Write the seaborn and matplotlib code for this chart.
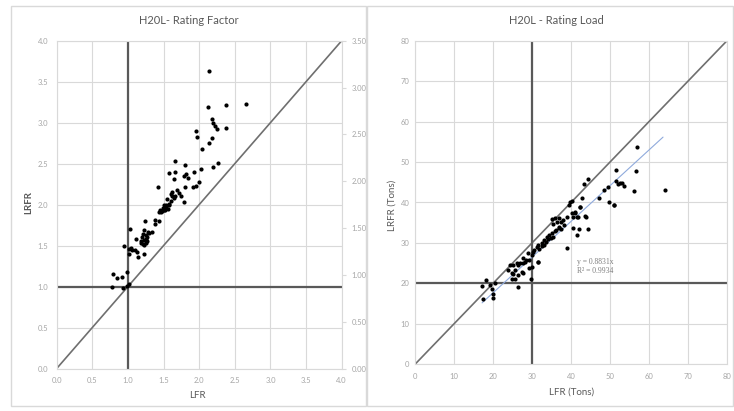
import matplotlib
matplotlib.use("Agg")
import matplotlib.pyplot as plt
from matplotlib.patches import Rectangle
from matplotlib.ticker import FormatStrFormatter, MultipleLocator
import pandas as pd
import seaborn as sns

# Rating factor data (LFR vs LRFR)
rf_lfr = [2.14, 2.12, 2.37, 2.65, 2.18, 2.20, 2.22, 2.25, 2.38, 1.95, 1.97, 2.18, 2.14, 2.04,
          2.26, 2.20, 1.66, 1.80, 1.58, 1.66, 1.81, 1.92, 2.03, 1.79, 1.64, 1.84, 2.00, 1.91,
          1.95, 1.42, 1.80, 1.62, 1.69, 1.66, 1.62, 1.75, 1.79, 1.55, 1.58, 1.65, 1.50, 1.53,
          1.45, 1.47, 1.52, 1.56, 1.43, 1.38, 1.44, 1.24, 1.03, 1.23, 1.28, 1.38, 1.34, 1.21,
          1.27, 1.11, 1.23, 1.19, 1.27, 1.21, 1.18, 0.94, 1.22, 1.02, 1.10, 1.13, 1.01, 1.22,
          1.14, 0.98, 0.79, 0.91, 0.85, 0.78, 0.93, 1.01, 0.98, 1.49, 1.51, 1.54, 1.60, 1.57,
          1.25, 1.26, 1.30, 1.20, 1.48, 1.61, 1.72, 1.25, 1.04, 1.06]
rf_lrfr = [3.63, 3.19, 3.22, 3.23, 3.05, 3.00, 2.96, 2.92, 2.93, 2.90, 2.82, 2.81, 2.75, 2.68,
           2.51, 2.46, 2.53, 2.48, 2.38, 2.40, 2.37, 2.40, 2.43, 2.35, 2.31, 2.32, 2.27, 2.21,
           2.23, 2.22, 2.22, 2.15, 2.18, 2.11, 2.11, 2.11, 2.03, 2.07, 2.01, 2.08, 1.99, 1.97,
           1.94, 1.91, 1.94, 1.95, 1.91, 1.81, 1.80, 1.80, 1.70, 1.69, 1.67, 1.76, 1.66, 1.64,
           1.61, 1.58, 1.57, 1.55, 1.55, 1.52, 1.53, 1.50, 1.51, 1.46, 1.45, 1.42, 1.40, 1.40,
           1.36, 1.18, 1.15, 1.12, 1.10, 0.99, 0.98, 1.03, 1.01, 1.96, 1.93, 1.99, 2.04, 2.00,
           1.58, 1.63, 1.65, 1.60, 1.92, 2.13, 2.14, 1.53, 1.47, 1.44]

# Rating load data in tons (LFR vs LRFR)
rl_lfr = [56.8, 51.6, 56.7, 43.4, 44.3, 51.6, 52.6, 53.1, 52.1, 53.6, 56.2, 64.1, 48.5, 49.6,
          47.2, 42.7, 49.7, 51.0, 40.2, 42.4, 41.0, 40.6, 41.5, 43.8, 40.2, 40.6, 42.1, 44.4,
          41.6, 39.7, 39.5, 42.3, 40.9, 41.9, 38.9, 43.6, 36.8, 37.4, 37.9, 36.3, 38.3, 35.5,
          36.8, 37.4, 36.2, 35.0, 34.4, 33.8, 35.5, 34.2, 33.1, 32.5, 31.6, 32.5, 31.2, 31.9,
          38.9, 30.3, 29.9, 31.6, 29.1, 29.3, 28.2, 27.8, 26.9, 26.5, 26.1, 27.6, 25.2, 24.4,
          29.9, 29.3, 29.7, 27.4, 25.6, 24.8, 25.2, 26.5, 27.8, 24.8, 25.6, 26.5, 18.2, 17.1,
          19.2, 19.7, 20.1, 17.5, 20.1, 20.5, 23.9, 31.6, 51.1, 35.8, 37.0, 33.5, 34.8, 28.5,
          30.5, 33.0, 36.0, 35.2]
rl_lrfr = [53.6, 48.0, 47.8, 44.6, 45.7, 45.4, 44.7, 44.9, 44.6, 44.2, 42.8, 43.2, 43.2, 43.9,
           41.2, 41.0, 40.0, 39.5, 40.4, 38.8, 37.7, 36.5, 36.3, 36.5, 37.3, 33.6, 33.5, 33.5,
           32.0, 40.2, 39.4, 39.0, 37.3, 36.5, 36.5, 36.7, 36.1, 35.2, 35.7, 35.2, 34.4, 34.6,
           34.0, 33.4, 33.2, 32.5, 32.0, 31.5, 31.5, 30.9, 30.7, 30.1, 29.5, 29.2, 29.1, 28.4,
           28.7, 27.8, 27.0, 25.4, 27.4, 25.8, 25.4, 25.1, 25.0, 24.5, 25.1, 26.2, 24.5, 24.5,
           24.1, 23.7, 21.0, 22.9, 23.3, 22.6, 22.3, 22.1, 22.5, 21.0, 21.0, 19.0, 20.8, 19.4,
           19.6, 18.5, 17.5, 16.1, 16.3, 20.0, 23.3, 25.2, 39.4, 33.0, 33.8, 30.2, 31.2, 25.7,
           28.3, 29.6, 36.2, 35.8]

trend_slope = 0.8831
trend_r2 = 0.9934
trend_x = [17.2, 63.6]

sns.set_theme(style="white")
plt.rcParams["font.family"] = ["Lato", "DejaVu Sans"]

W, H = 734, 411
fig = plt.figure(figsize=(W / 100, H / 100), dpi=100)

GRID = "#d9d9d9"
TICK = "#a6a6a6"
TEXT = "#595959"
REF = "#595959"


def px_axes(x0, x1, ytop, ybot):
    return fig.add_axes([x0 / W, (H - ybot) / H, (x1 - x0) / W, (ybot - ytop) / H])


def style(ax, step, lim, ypad):
    ax.set_xlim(0, lim)
    ax.set_ylim(0, lim)
    ax.xaxis.set_major_locator(MultipleLocator(step))
    ax.yaxis.set_major_locator(MultipleLocator(step))
    ax.grid(True, color=GRID, linewidth=0.8)
    ax.set_axisbelow(True)
    for s in ax.spines.values():
        s.set_color(GRID)
        s.set_linewidth(0.8)
    ax.tick_params(axis="x", labelsize=5.5, labelcolor=TICK, length=0, pad=6)
    ax.tick_params(axis="y", labelsize=5.5, labelcolor=TICK, length=0, pad=ypad)
    ax.set_xlabel("")
    ax.set_ylabel("")


# Chart-area frames
for x0, x1 in [(11, 366), (367, 733)]:
    fig.patches.append(Rectangle((x0 / W, 5 / H), (x1 - x0) / W, (405 - 5) / H,
                                 transform=fig.transFigure, fill=False,
                                 edgecolor="#d9d9d9", linewidth=1.0))

# ---- Rating factor ----
ax1 = px_axes(56.7, 341.7, 40.7, 368.5)
rf = pd.DataFrame({"LFR": rf_lfr, "LRFR": rf_lrfr})
ax1.plot([0, 4], [0, 4], color="#6f6f6f", linewidth=1.2, zorder=2)
ax1.axvline(1.0, color=REF, linewidth=1.6, zorder=2)
ax1.axhline(1.0, color=REF, linewidth=1.6, zorder=2)
sns.scatterplot(data=rf, x="LFR", y="LRFR", ax=ax1, color="black", s=9,
                linewidth=0, zorder=3)
style(ax1, 0.5, 4.0, 6)
ax1.xaxis.set_major_formatter(FormatStrFormatter("%.1f"))
ax1.yaxis.set_major_formatter(FormatStrFormatter("%.1f"))

ax1r = ax1.twinx()
ax1r.set_ylim(0, 3.5)
ax1r.yaxis.set_major_locator(MultipleLocator(0.5))
ax1r.yaxis.set_major_formatter(FormatStrFormatter("%.2f"))
ax1r.tick_params(axis="y", labelsize=5.5, labelcolor=TICK, color=GRID,
                 length=3, width=0.8, pad=4)
for s in ax1r.spines.values():
    s.set_visible(False)
ax1r.grid(False)

fig.text(188.5 / W, 1 - 21 / H, "H20L- Rating Factor", ha="center", va="center",
         fontsize=8, color=TEXT)
fig.text(197 / W, 1 - 395.5 / H, "LFR", ha="center", va="center",
         fontsize=7, color=TEXT)
fig.text(29 / W, 1 - 203 / H, "LRFR", ha="center", va="center", rotation=90,
         fontsize=7, color=TEXT, fontweight="bold")

# ---- Rating load ----
ax2 = px_axes(415, 727, 40.7, 364.3)
rl = pd.DataFrame({"LFR": rl_lfr, "LRFR": rl_lrfr})
ax2.plot([0, 80], [0, 80], color="#6f6f6f", linewidth=1.2, zorder=2)
ax2.axvline(30, color=REF, linewidth=1.6, zorder=2)
ax2.axhline(20, color=REF, linewidth=1.6, zorder=2)
ax2.plot(trend_x, [trend_slope * v for v in trend_x], color="#8faadc",
         linewidth=0.8, zorder=2)
sns.scatterplot(data=rl, x="LFR", y="LRFR", ax=ax2, color="black", s=9,
                linewidth=0, zorder=3)
style(ax2, 10, 80, 4)
ax2.text(41.5, 25.4, f"y = {trend_slope}x", fontsize=5.5, color="#7f7f7f",
         family=["Liberation Serif", "DejaVu Serif"], va="center")
ax2.text(41.5, 23.0, f"R² = {trend_r2}", fontsize=5.5, color="#7f7f7f",
         family=["Liberation Serif", "DejaVu Serif"], va="center")

fig.text(556 / W, 1 - 21 / H, "H20L - Rating Load", ha="center", va="center",
         fontsize=8, color=TEXT)
fig.text(572 / W, 1 - 392 / H, "LFR (Tons)", ha="center", va="center",
         fontsize=7, color=TEXT)
fig.text(392 / W, 1 - 205 / H, "LRFR (Tons)", ha="center", va="center", rotation=90,
         fontsize=7, color=TEXT)

fig.savefig("out.png", dpi=100, facecolor="white")
